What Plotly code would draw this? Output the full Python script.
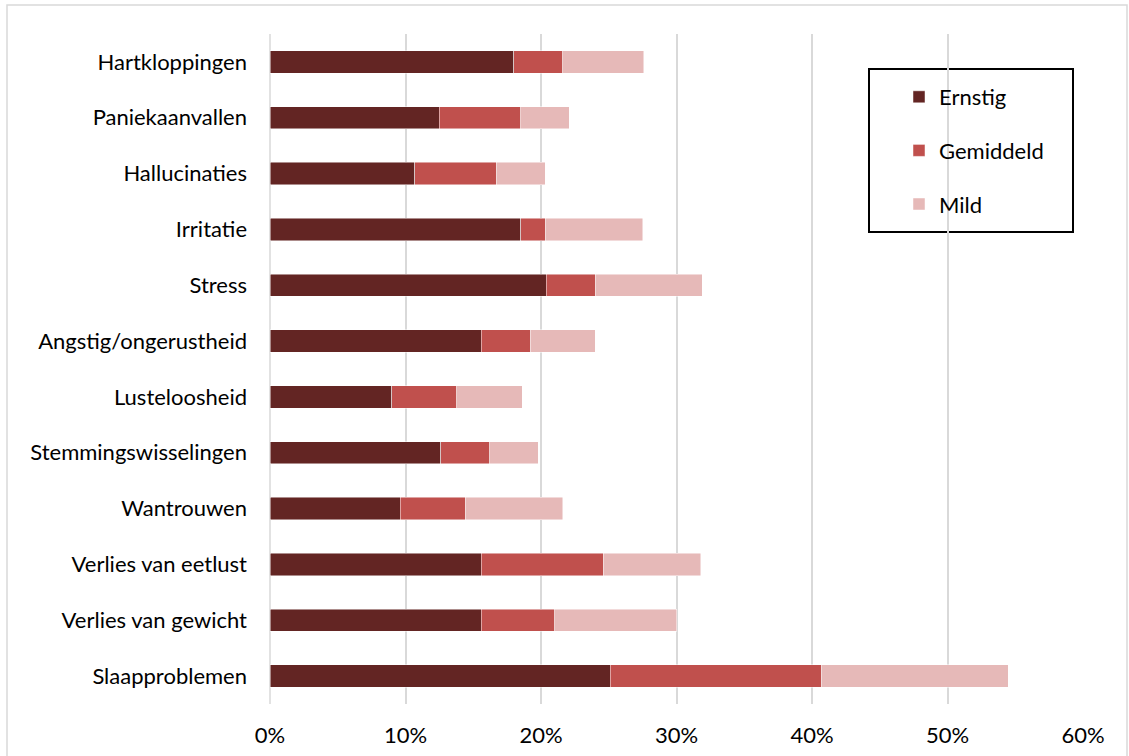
import plotly.graph_objects as go

categories = ["Hartkloppingen", "Paniekaanvallen", "Hallucinaties", "Irritatie", "Stress",
              "Angstig/ongerustheid", "Lusteloosheid", "Stemmingswisselingen", "Wantrouwen",
              "Verlies van eetlust", "Verlies van gewicht", "Slaapproblemen"]
ernstig = [18.0, 12.5, 10.7, 18.5, 20.4, 15.6, 9.0, 12.6, 9.6, 15.6, 15.6, 25.1]
gemiddeld = [3.6, 6.0, 6.0, 1.8, 3.6, 3.6, 4.8, 3.6, 4.8, 9.0, 5.4, 15.6]
mild = [6.0, 3.6, 3.6, 7.2, 7.9, 4.8, 4.8, 3.6, 7.2, 7.2, 9.0, 13.8]
tick_vals = [0, 10, 20, 30, 40, 50, 60]
tick_text = ["0%", "10%", "20%", "30%", "40%", "50%", "60%"]

series = [("Ernstig", ernstig, "#632523"), ("Gemiddeld", gemiddeld, "#C0504D"), ("Mild", mild, "#E6B9B8")]

FONT = "Lato"
FS = 22
fig = go.Figure()
for name, vals, col in series:
    fig.add_trace(go.Bar(
        y=categories, x=vals, name=name, orientation="h",
        marker=dict(color=col, line=dict(color="rgba(255,255,255,0.6)", width=0.8)),
        legendgroup=name,
    ))

W, H = 1129, 756
L, R, T, B = 270, 46, 34, 52
pw, ph = W - L - R, H - T - B

def px_to_paper_x(px):
    return (px - L) / pw

def px_to_paper_y(py):
    return (H - B - py) / ph

fig.update_layout(
    width=W, height=H,
    margin=dict(l=L, r=R, t=T, b=B, pad=0),
    barmode="stack", bargap=0.6,
    plot_bgcolor="white", paper_bgcolor="white",
    font=dict(family=FONT, size=FS, color="#000000"),
    xaxis=dict(range=[0, 60], tickvals=tick_vals, ticktext=tick_text,
               showgrid=True, gridcolor="#D9D9D9", gridwidth=1.5,
               zeroline=False, showline=False, ticks="", automargin=False,
               ticklabelstandoff=16, tickfont=dict(size=FS, family=FONT)),
    yaxis=dict(categoryorder="array", categoryarray=categories[::-1],
               showgrid=False, zeroline=False, showline=False, ticks="", automargin=False,
               ticklabelstandoff=22, tickfont=dict(size=FS, family=FONT)),
    legend=dict(x=px_to_paper_x(899), y=px_to_paper_y(76), xanchor="left", yanchor="top",
                bgcolor="rgba(0,0,0,0)", borderwidth=0, traceorder="grouped",
                tracegroupgap=22, font=dict(size=FS, family=FONT), itemwidth=30),
    shapes=[
        dict(type="rect", xref="paper", yref="paper",
             x0=px_to_paper_x(869), x1=px_to_paper_x(1073),
             y0=px_to_paper_y(69), y1=px_to_paper_y(232),
             line=dict(color="black", width=2), fillcolor="rgba(0,0,0,0)", layer="below"),
        dict(type="line", xref="paper", yref="paper",
             x0=0, x1=0, y0=0, y1=1, line=dict(color="#D9D9D9", width=1.5), layer="below"),
        dict(type="rect", xref="paper", yref="paper",
             x0=px_to_paper_x(7), x1=px_to_paper_x(1127),
             y0=px_to_paper_y(770), y1=px_to_paper_y(5),
             line=dict(color="#D9D9D9", width=1.5), fillcolor="rgba(0,0,0,0)", layer="below"),
    ],
)
fig.update_yaxes(range=[-0.5, len(categories) - 0.5])

fig.write_html("out.html", config={"displayModeBar": False},
               post_script="document.body.style.margin='0';")
